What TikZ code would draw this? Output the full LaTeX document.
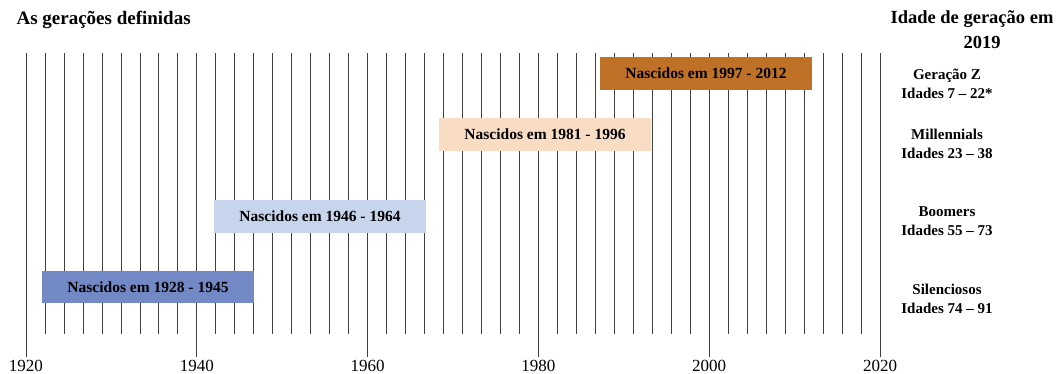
\documentclass[tikz,border=0pt]{standalone}
\usepackage{fontspec}
\setmainfont{Liberation Serif}
\definecolor{zcolor}{HTML}{BE7127}
\definecolor{mcolor}{HTML}{F8DCC4}
\definecolor{bcolor}{HTML}{C6D5EC}
\definecolor{scolor}{HTML}{7289C5}
\tikzset{
  gridline/.style={black!75, line width=0.7pt},
  bar/.style={inner sep=0pt, minimum width=212pt, minimum height=33pt, font=\fontsize{15.5}{16}\selectfont\bfseries},
  agelabel/.style={align=center, font=\fontsize{15}{19}\selectfont\bfseries},
  yearlabel/.style={font=\fontsize{17}{17}\selectfont},
  headlabel/.style={font=\fontsize{18.5}{19}\selectfont\bfseries}
}
\begin{document}
\begin{tikzpicture}[x=1pt,y=-1pt]
\useasboundingbox (0,0) rectangle (1063,374);
\pgfmathsetmacro\xo{26};
\pgfmathsetmacro\gap{854/45};
\foreach \n in {0,...,45} \draw [gridline] (\xo+\gap*\n,53) -- (\xo+\gap*\n,334);
\foreach \n in {0,...,5} {
  \pgfmathtruncatemacro\yr{1920+20*\n}
  \draw [gridline] (\xo+\gap*9*\n,334) -- (\xo+\gap*9*\n,357);
  \node [yearlabel] (year\n) at (\xo+\gap*9*\n,365.5) {\yr};
}
\node [headlabel, font=\fontsize{19}{19}\selectfont\bfseries, anchor=west] (title) at (13,20) {As gerações definidas};
\node [headlabel] (agetitle) at (972,19) {Idade de geração em};
\node [headlabel] (agetitleyear) at (982,42) {2019};
\node [bar, fill=zcolor] (genz) at (706,73.5) {Nascidos em 1997 - 2012};
\node [bar, fill=mcolor] (millennials) at (545,134.5) {Nascidos em 1981 - 1996};
\node [bar, fill=bcolor] (boomers) at (320,216.5) {Nascidos em 1946 - 1964};
\node [bar, fill=scolor, minimum height=32pt] (silent) at (148,287) {Nascidos em 1928 - 1945};
\node [agelabel] (genzage) at (947,83.5) {Geração Z\\Idades 7 – 22*};
\node [agelabel] (millennialsage) at (947,143.5) {Millennials\\Idades 23 – 38};
\node [agelabel] (boomersage) at (947,221.5) {Boomers\\Idades 55 – 73};
\node [agelabel] (silentage) at (947,298.5) {Silenciosos\\Idades 74 – 91};
\end{tikzpicture}
\end{document}
